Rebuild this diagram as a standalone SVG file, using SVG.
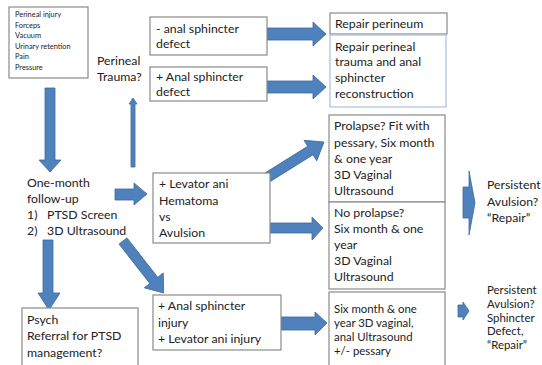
<svg xmlns="http://www.w3.org/2000/svg" width="542" height="365" viewBox="0 0 542 365">
  <style>
    text { font-family: Lato, "Liberation Sans", sans-serif; fill: #222222; font-size: 12.3px; }
    .small { font-size: 7.4px; }
    .tight { font-size: 11.4px; }
    .box { fill: #ffffff; stroke: #8a8a8a; stroke-width: 1.2; }
    .boxblue { fill: #ffffff; stroke: #a9c1dc; stroke-width: 1.2; }
    .arrow { fill: #4f81bd; stroke: #3d6a9e; stroke-width: 0.8; }
  </style>
  <rect width="542" height="365" fill="#ffffff"/>

  <!-- connectors -->
  <g id="connectors">
    <!-- risk list down to follow-up -->
    <polygon class="arrow" points="45,88 55,88 55,160 61,160 50,172 39,160 45,160"/>
    <!-- follow-up up to perineal trauma -->
    <polygon class="arrow" points="131,167 131,104 129,104 133,98 137,104 135,104 135,167"/>
    <!-- minus sphincter defect to repair perineum -->
    <polygon class="arrow" points="267,28 313,28 313,22 326,34 313,46 313,40 267,40"/>
    <!-- plus sphincter defect to reconstruction -->
    <polygon class="arrow" points="267,81 313,81 313,75 326,87 313,99 313,93 267,93"/>
    <!-- follow-up to levator ani -->
    <polygon class="arrow" points="115,189 134,189 134,183 147,194 134,205 134,200 115,200"/>
    <!-- follow-up down to psych referral -->
    <polygon class="arrow" points="43,240 53,240 53,293 60,293 49,310 38,293 43,293"/>
    <!-- follow-up diagonal to sphincter injury -->
    <polygon class="arrow" transform="translate(123,241) rotate(52)" points="0,-5 50,-5 50,-12 66,0 50,12 50,5 0,5"/>
    <!-- levator ani to prolapse -->
    <polygon class="arrow" transform="translate(268,177) rotate(-32)" points="0,-5 50,-5 50,-12 66,0 50,12 50,5 0,5"/>
    <!-- levator ani to no prolapse -->
    <polygon class="arrow" points="267,223 312,223 312,217 323,228 312,240 312,233 267,233"/>
    <!-- sphincter injury to six month follow-up -->
    <polygon class="arrow" points="281,317 315,317 315,312 327,323 315,335 315,330 281,330"/>
    <!-- prolapse outcomes to persistent avulsion -->
    <polygon class="arrow" points="463,187 469,187 469,171 475,203 469,235 469,218 463,218"/>
    <!-- six month to persistent avulsion / defect -->
    <polygon class="arrow" points="458,305 463,305 463,302 469,311 463,320 463,317 458,317"/>
  </g>

  <g id="risk-factors">
    <rect class="box" x="9" y="7" width="79" height="71"/>
    <text class="small" x="15" y="17">Perineal injury</text>
    <text class="small" x="15" y="28">Forceps</text>
    <text class="small" x="15" y="38">Vacuum</text>
    <text class="small" x="15" y="49">Urinary retention</text>
    <text class="small" x="15" y="59">Pain</text>
    <text class="small" x="15" y="70">Pressure</text>
  </g>

  <g id="perineal-trauma">
    <text x="97" y="65">Perineal</text>
    <text x="97" y="81">Trauma?</text>
  </g>

  <g id="no-sphincter-defect">
    <rect class="box" x="150" y="17" width="117" height="38"/>
    <text x="156" y="33">- anal sphincter</text>
    <text x="156" y="48">defect</text>
  </g>

  <g id="sphincter-defect">
    <rect class="box" x="150" y="67" width="117" height="34"/>
    <text x="156" y="81">+ Anal sphincter</text>
    <text x="156" y="96">defect</text>
  </g>

  <g id="repair-perineum">
    <rect class="box" x="330" y="13" width="117" height="21"/>
    <text x="335" y="28">Repair perineum</text>
  </g>

  <g id="sphincter-reconstruction">
    <rect class="boxblue" x="330" y="35" width="116" height="72"/>
    <text x="335" y="51">Repair perineal</text>
    <text x="335" y="66">trauma and anal</text>
    <text x="335" y="82">sphincter</text>
    <text x="335" y="98">reconstruction</text>
  </g>

  <g id="follow-up">
    <text x="27" y="187">One-month</text>
    <text x="27" y="203">follow-up</text>
    <text x="27" y="219">1)</text>
    <text x="47" y="219">PTSD Screen</text>
    <text x="27" y="235">2)</text>
    <text x="47" y="235">3D Ultrasound</text>
  </g>

  <g id="levator-ani">
    <rect class="box" x="153" y="173" width="117" height="70"/>
    <text x="159" y="188">+ Levator ani</text>
    <text x="159" y="205">Hematoma</text>
    <text x="159" y="221">vs</text>
    <text x="159" y="237">Avulsion</text>
  </g>

  <g id="prolapse">
    <rect class="box" x="329" y="115" width="116" height="87"/>
    <text x="334" y="130">Prolapse? Fit with</text>
    <text x="334" y="147">pessary, Six month</text>
    <text x="334" y="163">&amp; one year</text>
    <text x="334" y="179">3D Vaginal</text>
    <text x="334" y="195">Ultrasound</text>
  </g>

  <g id="no-prolapse">
    <rect class="box" x="329" y="202" width="116" height="87"/>
    <text x="334" y="217">No prolapse?</text>
    <text x="334" y="233">Six month &amp; one</text>
    <text x="334" y="249">year</text>
    <text x="334" y="265">3D Vaginal</text>
    <text x="334" y="281">Ultrasound</text>
  </g>

  <g id="persistent-avulsion">
    <text x="487" y="189">Persistent</text>
    <text x="487" y="206">Avulsion?</text>
    <text x="487" y="222">“Repair”</text>
  </g>

  <g id="psych-referral">
    <rect class="box" x="22" y="308" width="116" height="58"/>
    <text x="27" y="324">Psych</text>
    <text x="27" y="340">Referral for PTSD</text>
    <text x="27" y="357">management?</text>
  </g>

  <g id="sphincter-injury">
    <rect class="box" x="153" y="295" width="128" height="55"/>
    <text x="158" y="310">+ Anal sphincter</text>
    <text x="158" y="327">injury</text>
    <text x="158" y="343">+ Levator ani injury</text>
  </g>

  <g id="six-month-follow-up">
    <rect class="box" x="329" y="292" width="116" height="80"/>
    <text class="tight" x="334" y="313">Six month &amp; one</text>
    <text class="tight" x="334" y="327">year 3D vaginal,</text>
    <text class="tight" x="334" y="341">anal Ultrasound</text>
    <text class="tight" x="334" y="355">+/- pessary</text>
  </g>

  <g id="persistent-defect">
    <text class="tight" x="487" y="294">Persistent</text>
    <text class="tight" x="487" y="308">Avulsion?</text>
    <text class="tight" x="487" y="321.5">Sphincter</text>
    <text class="tight" x="487" y="335">Defect,</text>
    <text class="tight" x="487" y="349">“Repair”</text>
  </g>
</svg>
